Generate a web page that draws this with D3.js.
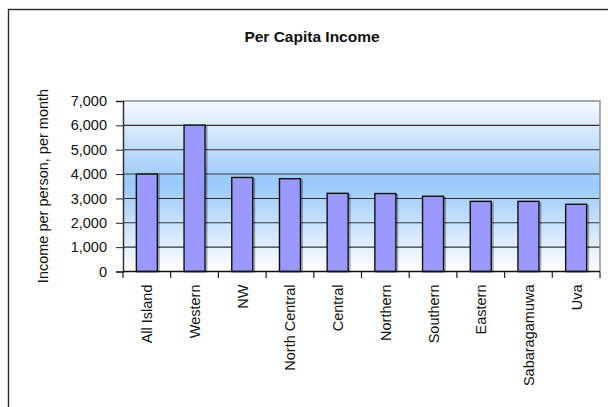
<!DOCTYPE html>
<html>
<head>
<meta charset="utf-8">
<script src="https://cdn.jsdelivr.net/npm/d3@7"></script>
<style>
  html, body { margin: 0; padding: 0; background: #ffffff; }
  svg { display: block; font-family: "Liberation Sans", Arial, sans-serif; }
</style>
</head>
<body>
<svg id="chart" width="608" height="407"></svg>
<script>
// Monthly per capita income by province
const regions = ["All Island", "Western", "NW", "North Central", "Central",
                 "Northern", "Southern", "Eastern", "Sabaragamuwa", "Uva"];
const income = [4000, 6010, 3860, 3810, 3210, 3200, 3090, 2880, 2880, 2760];
const yTicks = [0, 1000, 2000, 3000, 4000, 5000, 6000, 7000];

const svg = d3.select("#chart");
const plot = { left: 123, right: 600, top: 101, bottom: 271.5 };

const x = d3.scaleBand()
  .domain(regions)
  .range([plot.left, plot.right])
  .paddingInner(0.56)
  .paddingOuter(0.28);

const y = d3.scaleLinear()
  .domain([0, 7000])
  .range([plot.bottom, plot.top]);

// Outer chart frame (extends past the right and bottom edges)
svg.append("rect")
  .attr("x", 8.5).attr("y", 9.5)
  .attr("width", 640).attr("height", 440)
  .attr("fill", "none")
  .attr("stroke", "#2a2a2a")
  .attr("stroke-width", 1.4);

// Chart title
svg.append("text")
  .attr("x", 312).attr("y", 41.5)
  .attr("text-anchor", "middle")
  .attr("font-size", 15.5).attr("font-weight", "bold")
  .attr("fill", "#111")
  .text("Per Capita Income");

// Plot-area gradient background
const defs = svg.append("defs");
const grad = defs.append("linearGradient")
  .attr("id", "plotBg").attr("x1", 0).attr("y1", 0).attr("x2", 0).attr("y2", 1);
grad.append("stop").attr("offset", "0%").attr("stop-color", "#f7faff");
grad.append("stop").attr("offset", "48%").attr("stop-color", "#99c9fb");
grad.append("stop").attr("offset", "100%").attr("stop-color", "#ffffff");

svg.append("rect")
  .attr("x", plot.left).attr("y", plot.top)
  .attr("width", plot.right - plot.left)
  .attr("height", plot.bottom - plot.top)
  .attr("fill", "url(#plotBg)");

// Horizontal gridlines
svg.append("g")
  .selectAll("line")
  .data(yTicks.filter(d => d > 0 && d < 7000))
  .join("line")
  .attr("x1", plot.left).attr("x2", plot.right)
  .attr("y1", d => y(d)).attr("y2", d => y(d))
  .attr("stroke", "#333")
  .attr("stroke-width", 1.1);

// Plot area border (top and right)
svg.append("path")
  .attr("d", `M${plot.left},${y(7000)}H${plot.right}V${plot.bottom}`)
  .attr("fill", "none")
  .attr("stroke", "#8a8a8a")
  .attr("stroke-width", 1.4);

// Bar shadows
svg.append("g")
  .selectAll("rect")
  .data(regions)
  .join("rect")
  .attr("x", d => x(d) + 1.5)
  .attr("y", (d, i) => y(income[i]) + 1.5)
  .attr("width", x.bandwidth())
  .attr("height", (d, i) => y(0) - y(income[i]) - 1.5)
  .attr("fill", "none")
  .attr("stroke", "#000")
  .attr("stroke-opacity", 0.3)
  .attr("stroke-width", 2);

// Bars
svg.append("g")
  .selectAll("rect")
  .data(regions)
  .join("rect")
  .attr("x", d => x(d))
  .attr("y", (d, i) => y(income[i]))
  .attr("width", x.bandwidth())
  .attr("height", (d, i) => y(0) - y(income[i]))
  .attr("fill", "#9999ff")
  .attr("stroke", "#111")
  .attr("stroke-width", 1.4);

// Y axis
const yAxis = svg.append("g")
  .attr("transform", `translate(${plot.left},0)`)
  .call(d3.axisLeft(y).tickValues(yTicks).tickSize(7).tickPadding(9)
        .tickFormat(d3.format(",")));
yAxis.select(".domain").attr("stroke", "#333").attr("stroke-width", 1.5);
yAxis.selectAll(".tick line").attr("stroke", "#222");
yAxis.selectAll(".tick text")
  .attr("font-size", 14.5)
  .attr("font-family", "Liberation Sans, Arial, sans-serif")
  .attr("fill", "#111");

// X axis: ticks at category boundaries
const boundaries = regions.map(d => x(d) - x.step() * x.paddingInner() / 2)
  .concat([plot.right]);
boundaries[0] = plot.left;
svg.append("line")
  .attr("x1", plot.left).attr("x2", plot.right)
  .attr("y1", plot.bottom).attr("y2", plot.bottom)
  .attr("stroke", "#111").attr("stroke-width", 1.4);
svg.append("g")
  .selectAll("line")
  .data(boundaries)
  .join("line")
  .attr("x1", d => d).attr("x2", d => d)
  .attr("y1", plot.bottom).attr("y2", plot.bottom + 6.5)
  .attr("stroke", "#222").attr("stroke-width", 1.2);

// Category labels, rotated
svg.append("g")
  .selectAll("text")
  .data(regions)
  .join("text")
  .attr("transform", d => `translate(${x(d) + x.bandwidth() / 2 + 5.5},${plot.bottom + 13}) rotate(-90)`)
  .attr("text-anchor", "end")
  .attr("font-size", 14.5)
  .attr("fill", "#111")
  .text(d => d);

// Y axis title
svg.append("text")
  .attr("transform", "translate(48,186) rotate(-90)")
  .attr("text-anchor", "middle")
  .attr("font-size", 14.5)
  .attr("fill", "#111")
  .text("Income per person,  per month");
</script>
</body>
</html>
